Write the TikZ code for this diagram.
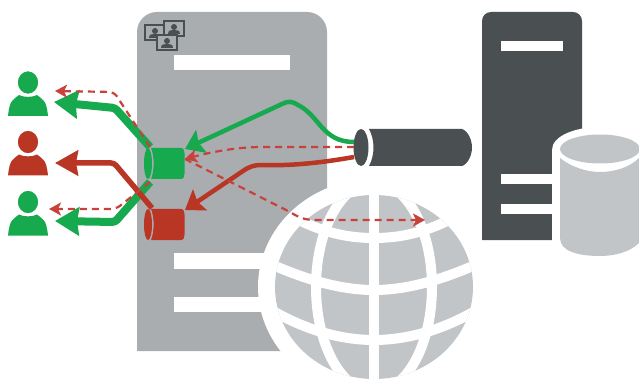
\documentclass[tikz,border=0pt]{standalone}
\usetikzlibrary{arrows.meta,shapes.geometric}
\definecolor{srv}{HTML}{A9ADB0}
\definecolor{dark}{HTML}{4A4F52}
\definecolor{lite}{HTML}{C2C5C8}
\definecolor{grn}{HTML}{16A94E}
\definecolor{rd}{HTML}{B93524}
\definecolor{dsh}{HTML}{C8413B}
\tikzset{
  x=1pt,y=-1pt,
  bar/.style={fill=white},
  thickarrow/.style={draw=#1,line width=8pt,rounded corners=3pt,-{Stealth[length=24pt,width=28pt,inset=2pt,fill=#1]}},
  midarrow/.style={draw=rd,line width=5.5pt,rounded corners=3pt,-{Stealth[length=23pt,width=25pt,inset=2pt,fill=rd]}},
  finearrow/.style={draw=#1,line width=4.5pt,-{Stealth[length=18pt,width=25pt,inset=3pt,fill=#1]}},
  dasharrow/.style={draw=dsh,line width=2.2pt,dash pattern=on 7pt off 5pt,-{Stealth[length=12pt,width=13pt,inset=3pt,fill=dsh]}},
  frame/.style={draw=#1,fill=srv,line width=1.2pt},
  pics/person/.style={code={
    \fill[#1] (-20,33.5) .. controls (-19,25) and (-18,20) .. (-15,17.5)
      .. controls (-13,15.5) and (-11,14) .. (-9,12.5) .. controls (-5,15) and (5,15) .. (9,12.5)
      .. controls (11,14) and (13,15.5) .. (15,17.5) .. controls (18,20) and (19,25) .. (20,33.5) -- cycle;
    \fill[#1,draw=white,line width=1.5pt] (0,0) ellipse [x radius=11pt,y radius=12pt];
  }},
  pics/drum/.style={code={
    \fill[#1] (-3,0) ellipse [x radius=4pt,y radius=15.5pt];
    \fill[#1] (0,-15.5) -- (30,-15.5) .. controls (33,-15.5) and (33.5,-12) .. (33.5,-10)
      -- (33.5,10) .. controls (33.5,12) and (33,15.5) .. (30,15.5) -- (0,15.5)
      .. controls (3.5,7) and (3.5,-7) .. (0,-15.5) -- cycle;
  }},
  pics/portrait/.style={code={
    \draw[frame=#1] (0,0) rectangle (20,15);
    \fill[#1] (4,13) .. controls (4,9) and (7,9) .. (10,9) .. controls (13,9) and (16,9) .. (16,13) -- cycle;
    \fill[#1] (10,6) circle [radius=3pt];
  }}
}
\begin{document}
\begin{tikzpicture}
\useasboundingbox (0,0) rectangle (639,379);
\fill[white] (0,0) rectangle (639,379);

% left server
\fill[srv] (137,351) -- (137,32) arc[start angle=180,end angle=90,radius=20pt] -- (307,12)
  arc[start angle=90,end angle=0,radius=20pt] -- (327,351) -- cycle;
\fill[bar] (174,55) rectangle (290,70);
\fill[bar] (174,253) rectangle (300,269);
\fill[bar] (174,297) rectangle (300,312);
\pic at (145,25) {portrait=dark};
\pic at (164,21) {portrait=dark};
\pic at (157,35) {portrait=dark};

% right server
\fill[dark] (482,240) -- (482,21) arc[start angle=180,end angle=90,radius=9pt] -- (573,12)
  arc[start angle=90,end angle=0,radius=9pt] -- (582,240) -- cycle;
\fill[bar] (501,41) rectangle (563,51);
\fill[bar] (501,174) rectangle (570,184);
\fill[bar] (501,204) rectangle (570,214);

% database
\fill[white] (552,150) .. controls (552,136) and (575,127) .. (600,127) .. controls (625,127) and (639,134) .. (639,140) -- (639,262) -- (552,262) -- cycle;
\fill[lite] (560,158) .. controls (570,166) and (585,172) .. (600,172) .. controls (615,172) and (630,167) .. (639,158)
  -- (639,243) .. controls (630,252) and (615,256) .. (600,256) .. controls (580,256) and (560,252) .. (560,238) -- cycle;
\begin{scope}
\clip (550,120) rectangle (639,170);
\fill[lite] (600,149) ellipse [x radius=40pt,y radius=14.5pt];
\end{scope}

% globe
\fill[white] (374,287) ellipse [x radius=116pt,y radius=108pt];
\begin{scope}
\clip (374,287) ellipse [x radius=99pt,y radius=92pt];
\fill[lite] (270,190) rectangle (480,379);
\draw[white,line width=10pt] (374,180) -- (374,390);
\draw[white,line width=10pt] (374,287) ellipse [x radius=58pt,y radius=105pt];
\draw[white,line width=10pt] (291,216) .. controls (321,232) and (346,238) .. (374,238) .. controls (402,238) and (427,232) .. (457,216);
\draw[white,line width=10pt] (266,262) .. controls (306,280) and (341,290) .. (374,290) .. controls (407,290) and (442,280) .. (482,262);
\draw[white,line width=10pt] (273,311) .. controls (306,330) and (341,340) .. (374,340) .. controls (407,340) and (442,330) .. (475,311);
\end{scope}

% camera
\fill[dark] (369,129) -- (462,129) .. controls (468,131) and (472,140) .. (472,147.5)
  .. controls (472,155) and (468,164) .. (462,166) -- (369,166)
  .. controls (375,155) and (375,140) .. (369,129) -- cycle;
\node[ellipse,fill=dark,minimum width=15pt,minimum height=37pt,inner sep=0pt] (cam) at (361,147.5) {};
\coordinate (camT) at (354,142);
\coordinate (camM) at (354,147);
\coordinate (camB) at (354,157);

% small drums
\pic at (151,163.5) {drum=grn};
\pic at (151,224.5) {drum=rd};
\coordinate (gT) at (150,147);
\coordinate (gB) at (150,182);
\coordinate (rT) at (152,208);
\coordinate (gIn) at (185,149);
\coordinate (gDash) at (185,159);
\coordinate (rIn) at (185,210);
\coordinate (netEnd) at (425,220);

% people
\pic at (28,82.5) {person=grn};
\pic at (28,142) {person=rd};
\pic at (28,202) {person=grn};
\coordinate (p1) at (54,102);
\coordinate (p1d) at (55,91);
\coordinate (p2) at (55,163);
\coordinate (p3) at (55,221);
\coordinate (p3d) at (49,209);

% arrows to people
\draw[thickarrow=grn] (gT) -- (115,108) -- (p1);
\draw[thickarrow=grn] (gB) -- (115,222) -- (p3);
\draw[midarrow] (rT) -- (114,163) -- (p2);

% arrows from camera
\draw[finearrow=grn] (camT) .. controls (322,142) and (320,116) .. (298,105)
  .. controls (292,101) and (288,101) .. (282,104) -- (gIn);
\draw[finearrow=rd] (camB) .. controls (320,163) and (290,166) .. (262,165)
  .. controls (255,165) and (250,166) .. (243,171) -- (rIn);
\draw[dasharrow] (camM) -- (262,147) .. controls (240,147) and (215,151) .. (gDash);
\draw[dasharrow] (gDash) -- (290,212) .. controls (298,217) and (304,220) .. (315,220) -- (netEnd);

% dashed to people
\draw[dasharrow,rounded corners=5pt] (gT) -- (114,92) -- (p1d);
\draw[dasharrow,rounded corners=5pt] (gB) -- (116,209) -- (p3d);
\end{tikzpicture}
\end{document}
